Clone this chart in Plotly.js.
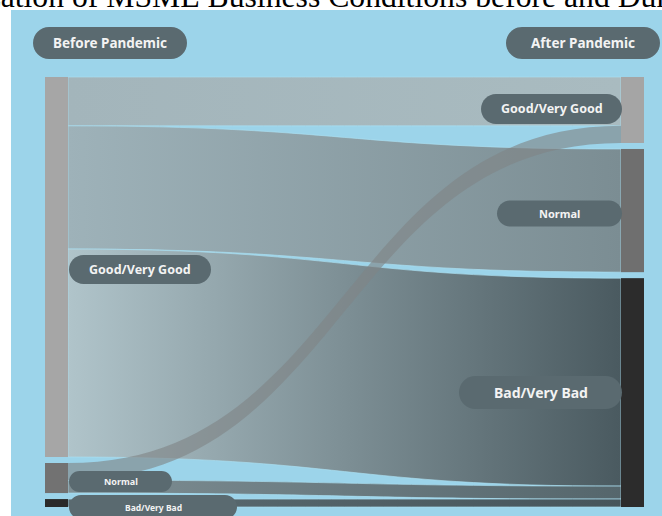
<!DOCTYPE html>
<html><head><meta charset="utf-8">
<script src="https://cdn.plot.ly/plotly-3.0.1.min.js"></script>
<style>html,body{margin:0;padding:0;background:#fff;}#chart{width:662px;height:516px;}</style>
</head><body><div id="chart"></div>
<script>
// ---------- data ----------
const titleText = 'Visualization of MSME Business Conditions before and During the Pandemic';
const stageLabels = ['Before Pandemic', 'After Pandemic'];
const conditionLabels = ['Good/Very Good', 'Normal', 'Bad/Very Bad'];
// flows (% of MSMEs): before-condition index -> after-condition index
const linkSource = [0, 0, 0, 1, 2, 1];
const linkTarget = [0, 1, 2, 2, 2, 0];
const linkValue  = [11.7, 29.5, 49.8, 3.1, 1.9, 4.1];

// ---------- styling ----------
const W = 662, H = 516;
const dom = {x0: 45, x1: 644, y0: 77, y1: 507};
const thick = 23, pad = 6;
const leftColors  = ['#a6a6a6', '#727272', '#2a2a2a'];
const rightColors = ['#a5a5a5', '#6f6f6f', '#2c2c2c'];
const linkBase = ['#a6b7bc', '#8fa2a8', '#7b8e94', '#66777c', '#505f65', 'rgba(128,132,134,0.62)'];
const linkGrad = [
  ['#a3b5bb', '#a9bbc0'],
  ['#9eb2b9', '#7b8d93'],
  ['#b0c4ca', '#4a5a60'],
  ['#7f8f94', '#55666c'],
  ['#5d6d73', '#46555b'],
  null
];
const pillColor = '#5a6a70';
const pillText = '#f3f3f3';

const n = conditionLabels.length;
const leftTot = conditionLabels.map((_, i) => linkValue.reduce((s, v, k) => s + (linkSource[k] === i ? v : 0), 0));
const rightTot = conditionLabels.map((_, i) => linkValue.reduce((s, v, k) => s + (linkTarget[k] === i ? v : 0), 0));
const domW = dom.x1 - dom.x0, domH = dom.y1 - dom.y0;
const sum = a => a.reduce((s, v) => s + v, 0);
const ky = Math.min((domH - (n - 1) * pad) / sum(leftTot), (domH - (n - 1) * pad) / sum(rightTot));
function centers(tots) { let y = 0; return tots.map(v => { const c = y + v * ky / 2; y += v * ky + pad; return c; }); }
const lc = centers(leftTot), rc = centers(rightTot);
const xl = (thick / 2) / domW, xr = 1 - (thick / 2) / domW;

const trace = {
  type: 'sankey',
  arrangement: 'fixed',
  domain: {x: [dom.x0 / W, dom.x1 / W], y: [1 - dom.y1 / H, 1 - dom.y0 / H]},
  node: {
    label: conditionLabels.map(() => '').concat(conditionLabels.map(() => '')),
    customdata: conditionLabels.concat(conditionLabels),
    color: leftColors.concat(rightColors),
    thickness: thick, pad: pad,
    line: {width: 0},
    x: conditionLabels.map(() => xl).concat(conditionLabels.map(() => xr)),
    y: lc.map(c => c / domH).concat(rc.map(c => c / domH)),
    hovertemplate: '%{customdata}: %{value}%<extra></extra>'
  },
  link: {
    source: linkSource,
    target: linkTarget.map(t => t + n),
    value: linkValue,
    color: linkBase,
    line: {color: 'rgba(170,222,240,0.85)', width: 0.8}
  }
};

// pills (px geometry; vertical position tied to node centres)
const P = (x, y) => (x / W).toFixed(5) + ',' + (1 - y / H).toFixed(5);
function pill(cx, cy, w, h) {
  const r = h / 2, k = 0.5523 * r, x0 = cx - w / 2, x1 = cx + w / 2, y0 = cy - r, y1 = cy + r;
  return 'M' + P(x0 + r, y0) + ' L' + P(x1 - r, y0) +
    ' C' + P(x1 - r + k, y0) + ' ' + P(x1, cy - k) + ' ' + P(x1, cy) +
    ' C' + P(x1, cy + k) + ' ' + P(x1 - r + k, y1) + ' ' + P(x1 - r, y1) +
    ' L' + P(x0 + r, y1) +
    ' C' + P(x0 + r - k, y1) + ' ' + P(x0, cy + k) + ' ' + P(x0, cy) +
    ' C' + P(x0, cy - k) + ' ' + P(x0 + r - k, y0) + ' ' + P(x0 + r, y0) + ' Z';
}
const pills = [];
stageLabels.forEach((t, i) => pills.push({text: t, cx: i === 0 ? 110 : 583, cy: 43, w: 154, h: 32, fs: 13.5}));
const leftSpec = [{w: 142, h: 29, dy: 2.5, fs: 12.5}, {w: 103, h: 21, dy: 3.5, fs: 9}, {w: 168, h: 24, dy: 4, fs: 8.5}];
const rightSpec = [{w: 141, h: 30, dy: -1, fs: 12.5}, {w: 125, h: 26, dy: 3, fs: 11}, {w: 163, h: 33, dy: 0, fs: 14}];
conditionLabels.forEach((t, i) => {
  const s = leftSpec[i];
  pills.push({text: t, cx: 69 + s.w / 2, cy: dom.y0 + lc[i] + s.dy, w: s.w, h: s.h, fs: s.fs});
});
conditionLabels.forEach((t, i) => {
  const s = rightSpec[i];
  pills.push({text: t, cx: 622 - s.w / 2, cy: dom.y0 + rc[i] + s.dy, w: s.w, h: s.h, fs: s.fs});
});

const shapes = [{type: 'rect', xref: 'paper', yref: 'paper', x0: 11 / W, x1: 1.01, y0: -0.01, y1: 1 - 10 / H,
  fillcolor: '#9cd4ea', line: {width: 0}, layer: 'below'}];
pills.forEach(p => shapes.push({type: 'path', xref: 'paper', yref: 'paper', path: pill(p.cx, p.cy, p.w, p.h),
  fillcolor: pillColor, line: {width: 0}, layer: 'above'}));

const annotations = [{
  text: titleText, xref: 'paper', yref: 'paper', x: -105.5 / W, xanchor: 'left', y: 1 - 16 / H, yanchor: 'bottom',
  showarrow: false, font: {family: 'Liberation Serif, Times New Roman, serif', size: 31.7, color: '#000'}
}];
pills.forEach(p => annotations.push({text: p.text, xref: 'paper', yref: 'paper', x: p.cx / W, y: 1 - p.cy / H,
  xanchor: 'center', yanchor: 'middle', showarrow: false,
  font: {family: 'Noto Sans, Open Sans, sans-serif', size: p.fs, color: pillText, weight: 700}}));

const layout = {
  width: W, height: H, margin: {l: 0, r: 0, t: 0, b: 0},
  paper_bgcolor: '#ffffff', showlegend: false,
  shapes: shapes, annotations: annotations
};

Plotly.newPlot('chart', [trace], layout, {staticPlot: true, displayModeBar: false}).then(gd => {
  const NS = 'http://www.w3.org/2000/svg';
  const svg = gd.querySelector('svg.main-svg');
  let defs = svg.querySelector('defs');
  if (!defs) { defs = document.createElementNS(NS, 'defs'); svg.insertBefore(defs, svg.firstChild); }
  linkGrad.forEach((g, i) => {
    if (!g) return;
    const lg = document.createElementNS(NS, 'linearGradient');
    lg.setAttribute('id', 'lg' + i);
    lg.setAttribute('x1', '0'); lg.setAttribute('x2', '1'); lg.setAttribute('y1', '0'); lg.setAttribute('y2', '0');
    g.forEach((c, j) => {
      const st = document.createElementNS(NS, 'stop');
      st.setAttribute('offset', String(j / (g.length - 1)));
      st.setAttribute('stop-color', c);
      lg.appendChild(st);
    });
    defs.appendChild(lg);
  });
  gd.querySelectorAll('.sankey-link').forEach((p, i) => {
    const d = p.__data__;
    const k = (d && d.link && d.link.pointNumber !== undefined) ? d.link.pointNumber : i;
    if (linkGrad[k]) { p.style.fill = 'url(#lg' + k + ')'; p.style.fillOpacity = 1; }
    else { p.style.strokeOpacity = 0; }
  });
});
</script></body></html>
